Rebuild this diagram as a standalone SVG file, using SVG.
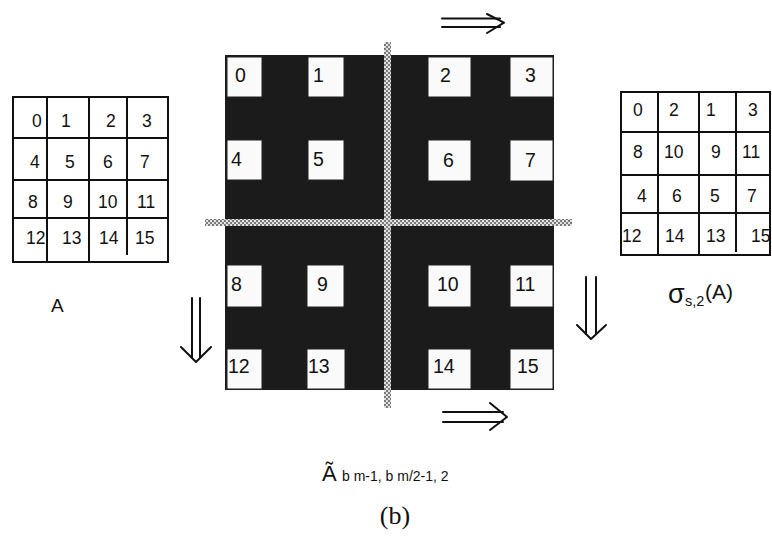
<svg xmlns="http://www.w3.org/2000/svg" width="772" height="536" viewBox="0 0 772 536">
  <defs>
    <pattern id="checks" width="4" height="4" patternUnits="userSpaceOnUse">
      <rect width="4" height="4" fill="#e2e2e2"/>
      <rect width="2" height="2" fill="#7a7a7a"/>
      <rect x="2" y="2" width="2" height="2" fill="#7a7a7a"/>
    </pattern>
  </defs>
  <style>
    .grid { fill: none; stroke: #111; stroke-width: 2; }
    .num { font-family: "Liberation Sans", Arial, sans-serif; font-size: 17.5px; fill: #111; }
    .cellnum { font-family: "Liberation Sans", Arial, sans-serif; font-size: 19.5px; fill: #111; }
    .cell { fill: #fafafa; stroke: #222; stroke-width: 1; }
    .arrow { fill: none; stroke: #111; stroke-width: 2; stroke-linecap: round; stroke-linejoin: round; }
    .label { font-family: "Liberation Sans", Arial, sans-serif; fill: #111; }
  </style>
  <rect width="772" height="536" fill="#ffffff"/>

  <!-- matrix A -->
  <g id="matrix-a">
    <rect class="grid" x="13" y="97" width="155" height="165"/>
    <line class="grid" x1="13" y1="138" x2="168" y2="138"/>
    <line class="grid" x1="13" y1="180" x2="168" y2="180"/>
    <line class="grid" x1="13" y1="218" x2="168" y2="218"/>
    <line class="grid" x1="47" y1="97" x2="47" y2="262"/>
    <line class="grid" x1="89" y1="97" x2="89" y2="262"/>
    <line class="grid" x1="127" y1="97" x2="127" y2="255"/>
    <text class="num" x="32" y="127">0</text>
    <text class="num" x="61" y="127">1</text>
    <text class="num" x="106" y="127">2</text>
    <text class="num" x="142" y="127">3</text>
    <text class="num" x="30" y="168">4</text>
    <text class="num" x="65" y="168">5</text>
    <text class="num" x="103" y="168">6</text>
    <text class="num" x="140" y="168">7</text>
    <text class="num" x="28" y="208">8</text>
    <text class="num" x="63" y="208">9</text>
    <text class="num" x="98" y="208">10</text>
    <text class="num" x="137" y="208">11</text>
    <text class="num" x="26" y="244">12</text>
    <text class="num" x="62" y="244">13</text>
    <text class="num" x="99" y="244">14</text>
    <text class="num" x="135" y="244">15</text>
  </g>
  <g id="label-a">
    <text class="label" x="51" y="312" font-size="19">A</text>
  </g>

  <!-- permuted matrix sigma_{s,2}(A) -->
  <g id="matrix-sigma">
    <rect class="grid" x="621" y="92" width="149" height="163"/>
    <line class="grid" x1="621" y1="132" x2="770" y2="132"/>
    <line class="grid" x1="621" y1="175" x2="770" y2="175"/>
    <line class="grid" x1="621" y1="213" x2="770" y2="213"/>
    <line class="grid" x1="658" y1="92" x2="658" y2="255"/>
    <line class="grid" x1="699" y1="92" x2="699" y2="255"/>
    <line class="grid" x1="736" y1="92" x2="736" y2="252"/>
    <text class="num" x="633" y="116">0</text>
    <text class="num" x="669" y="116">2</text>
    <text class="num" x="706" y="116">1</text>
    <text class="num" x="748" y="116">3</text>
    <text class="num" x="633" y="158">8</text>
    <text class="num" x="664" y="158">10</text>
    <text class="num" x="711" y="158">9</text>
    <text class="num" x="742" y="158">11</text>
    <text class="num" x="637" y="202">4</text>
    <text class="num" x="672" y="202">6</text>
    <text class="num" x="710" y="202">5</text>
    <text class="num" x="747" y="202">7</text>
    <text class="num" x="622" y="242">12</text>
    <text class="num" x="665" y="242">14</text>
    <text class="num" x="706" y="242">13</text>
    <text class="num" x="751" y="242">15</text>
  </g>
  <g id="label-sigma">
    <text class="label" x="668" y="303" font-size="27">σ</text>
    <text class="label" x="685" y="306" font-size="14.5">s,2</text>
    <text class="label" x="705" y="299" font-size="21">(A)</text>
  </g>

  <!-- block-partitioned matrix -->
  <g id="block-matrix">
    <rect x="225" y="55" width="329" height="335" fill="#1b1b1b"/>
    <g id="cell-0"><rect class="cell" x="227" y="57" width="35" height="40"/><text class="cellnum" x="235" y="82">0</text></g>
    <g id="cell-1"><rect class="cell" x="308" y="57" width="36" height="40"/><text class="cellnum" x="313" y="82">1</text></g>
    <g id="cell-2"><rect class="cell" x="428" y="57" width="43" height="40"/><text class="cellnum" x="440" y="82">2</text></g>
    <g id="cell-3"><rect class="cell" x="510" y="57" width="43" height="40"/><text class="cellnum" x="525" y="82">3</text></g>
    <g id="cell-4"><rect class="cell" x="227" y="140" width="35" height="40"/><text class="cellnum" x="231" y="166">4</text></g>
    <g id="cell-5"><rect class="cell" x="308" y="140" width="36" height="40"/><text class="cellnum" x="313" y="166">5</text></g>
    <g id="cell-6"><rect class="cell" x="428" y="140" width="43" height="41"/><text class="cellnum" x="443" y="167">6</text></g>
    <g id="cell-7"><rect class="cell" x="510" y="140" width="43" height="41"/><text class="cellnum" x="525" y="167">7</text></g>
    <g id="cell-8"><rect class="cell" x="227" y="265" width="35" height="42"/><text class="cellnum" x="231" y="291">8</text></g>
    <g id="cell-9"><rect class="cell" x="307" y="265" width="37" height="42"/><text class="cellnum" x="317" y="291">9</text></g>
    <g id="cell-10"><rect class="cell" x="428" y="265" width="43" height="42"/><text class="cellnum" x="437" y="291">10</text></g>
    <g id="cell-11"><rect class="cell" x="510" y="265" width="43" height="42"/><text class="cellnum" x="515" y="291">11</text></g>
    <g id="cell-12"><rect class="cell" x="227" y="349" width="35" height="40"/><text class="cellnum" x="228" y="373">12</text></g>
    <g id="cell-13"><rect class="cell" x="307" y="349" width="38" height="40"/><text class="cellnum" x="308" y="373">13</text></g>
    <g id="cell-14"><rect class="cell" x="428" y="349" width="43" height="40"/><text class="cellnum" x="433" y="373">14</text></g>
    <g id="cell-15"><rect class="cell" x="510" y="349" width="43" height="40"/><text class="cellnum" x="517" y="373">15</text></g>
  </g>

  <!-- dividing bands -->
  <g id="dividers">
    <rect x="384" y="42" width="7" height="366" fill="url(#checks)"/>
    <rect x="205" y="219" width="367" height="7" fill="url(#checks)"/>
  </g>

  <!-- shift arrows -->
  <g id="connectors">
    <g id="arrow-top">
      <line class="arrow" x1="442" y1="18.5" x2="500" y2="18.5"/>
      <line class="arrow" x1="442" y1="27" x2="500" y2="27"/>
      <polyline class="arrow" points="487,14 504,22.7 487,33"/>
    </g>
    <g id="arrow-bottom">
      <line class="arrow" x1="443" y1="412" x2="503" y2="412"/>
      <line class="arrow" x1="443" y1="422" x2="503" y2="422"/>
      <polyline class="arrow" points="490,403 507,417 490,430"/>
    </g>
    <g id="arrow-right">
      <line class="arrow" x1="586" y1="277" x2="586" y2="334"/>
      <line class="arrow" x1="596" y1="277" x2="596" y2="334"/>
      <polyline class="arrow" points="577,325 591,339 606,325"/>
    </g>
    <g id="arrow-left">
      <line class="arrow" x1="192" y1="298" x2="192" y2="357"/>
      <line class="arrow" x1="200" y1="298" x2="200" y2="357"/>
      <polyline class="arrow" points="181,347 196,362 211,347"/>
    </g>
  </g>

  <!-- captions -->
  <g id="label-block">
    <text class="label" x="322" y="481" font-size="22">Ã</text>
    <text class="label" x="342" y="481" font-size="14">b m-1, b m/2-1, 2</text>
  </g>
  <g id="caption">
    <text x="395" y="524" text-anchor="middle" font-family="'Liberation Serif', 'Times New Roman', serif" font-size="26" fill="#111">(b)</text>
  </g>
</svg>
